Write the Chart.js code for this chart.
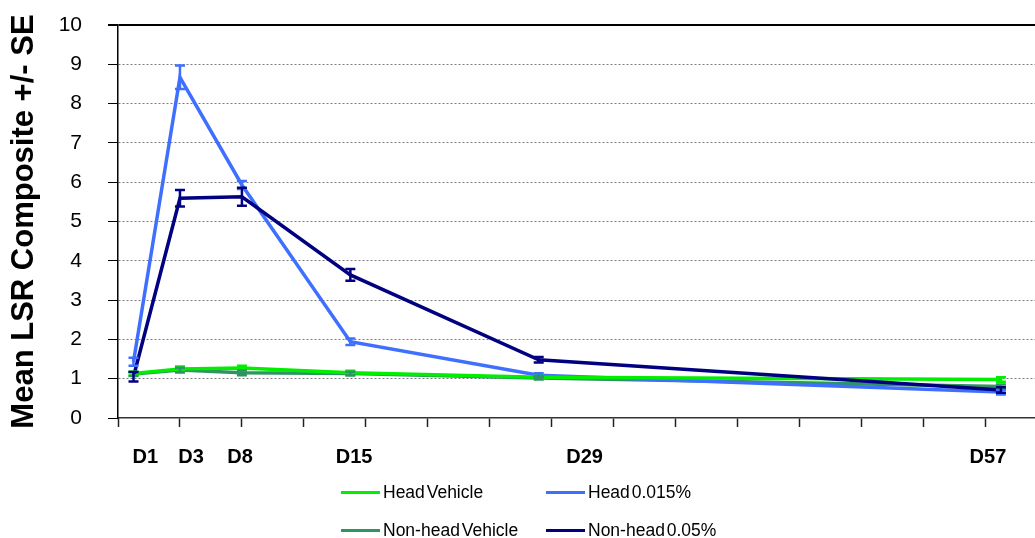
<!DOCTYPE html>
<html>
<head>
<meta charset="utf-8">
<script src="https://cdn.jsdelivr.net/npm/chart.js@4/dist/chart.umd.min.js"></script>
<style>
    body { margin: 0; background: #fff; }
    #wrap { position: relative; width: 1035px; height: 538px; }
    #legend {
        position: absolute; left: 341px; top: 473px;
        display: grid; grid-template-columns: 205px 220px; grid-auto-rows: 38px;
        font-family: "Liberation Sans", Arial, sans-serif; font-size: 17.5px; color: #000;
    }
    #legend .item { display: flex; align-items: center; white-space: nowrap; word-spacing: -3px; }
    #legend .line { display: inline-block; width: 39px; height: 3px; margin-right: 3px; }
</style>
</head>
<body>
<div id="wrap">
    <canvas id="chart" width="1035" height="538"></canvas>
    <div id="legend"></div>
</div>
<script>
// study days and where they sit on the category-like x axis (in tick units)
let dayLabels = ['D1', 'D3', 'D8', 'D15', 'D29', 'D57'];
let dayPos = [0.25, 1, 2, 3.75, 6.79, 14.25];
let labelPos = [0.44, 1.18, 1.97, 3.81, 7.53, 14.04];

// mean LSR composite per group
let headVehicle = [1.13, 1.25, 1.27, 1.15, 1.04, 0.98];
let nonheadVehicle = [1.12, 1.22, 1.15, 1.13, 1.02, 0.80];
let head015 = [1.43, 8.67, 5.93, 1.94, 1.09, 0.66];
let nonhead05 = [1.05, 5.59, 5.63, 3.64, 1.48, 0.71];

// standard errors
let headVehicleSE = [0.05, 0.06, 0.06, 0.05, 0.04, 0.06];
let nonheadVehicleSE = [0.05, 0.06, 0.06, 0.05, 0.04, 0.05];
let head015SE = [0.1, 0.3, 0.1, 0.08, 0.05, 0.06];
let nonhead05SE = [0.12, 0.21, 0.23, 0.15, 0.07, 0.07];

let yTicks = [0, 1, 2, 3, 4, 5, 6, 7, 8, 9, 10];

function points(values)
{
    return values.map((v, i) => ({ x: dayPos[i], y: v }));
}

function makeSet(label, color, values, se)
{
    return {
        label: label,
        data: points(values),
        se: se,
        borderColor: color,
        backgroundColor: color,
        borderWidth: 3.5,
        pointRadius: 0,
        tension: 0,
        xAxisID: 'x'
    };
}

let datasets = [
    makeSet('Head Vehicle', '#00ee00', headVehicle, headVehicleSE),
    makeSet('Head 0.015%', '#3f6fff', head015, head015SE),
    makeSet('Non-head Vehicle', '#2e9460', nonheadVehicle, nonheadVehicleSE),
    makeSet('Non-head 0.05%', '#000080', nonhead05, nonhead05SE)
];
datasets[3].order = -1;

// error bars drawn from the se arrays
let errorBars = {
    id: 'errorBars',
    afterDatasetsDraw(chart) {
        let ctx = chart.ctx;
        let yScale = chart.scales.y;
        chart.data.datasets.forEach((ds, di) => {
            let meta = chart.getDatasetMeta(di);
            ctx.save();
            ctx.strokeStyle = ds.borderColor;
            ctx.lineWidth = 2.5;
            meta.data.forEach((pt, i) => {
                let v = ds.data[i].y;
                let top = yScale.getPixelForValue(v + ds.se[i]);
                let bot = yScale.getPixelForValue(v - ds.se[i]);
                ctx.beginPath();
                ctx.moveTo(pt.x, top); ctx.lineTo(pt.x, bot);
                ctx.moveTo(pt.x - 5, top); ctx.lineTo(pt.x + 5, top);
                ctx.moveTo(pt.x - 5, bot); ctx.lineTo(pt.x + 5, bot);
                ctx.stroke();
            });
            ctx.restore();
        });
    }
};

let font = '"Liberation Sans", Arial, sans-serif';

let config = {
    type: 'line',
    data: { datasets: datasets },
    options: {
        responsive: false,
        animation: false,
        layout: { padding: { top: 25, right: 0, bottom: 44, left: 0 } },
        plugins: { legend: { display: false }, tooltip: { enabled: false } },
        scales: {
            x: {
                type: 'linear', position: 'bottom', min: 0, max: 14.8,
                afterBuildTicks: s => { s.ticks = s.ticks.filter(t => Number.isInteger(t.value)); },
                afterFit: s => { s.height = 9; },
                ticks: { display: false, stepSize: 1 },
                grid: { drawOnChartArea: false, tickLength: 9, color: '#222', tickWidth: 1.5 },
                border: { color: '#333', width: 1.5 }
            },
            xl: {
                type: 'linear', position: 'bottom', min: 0, max: 14.8,
                afterBuildTicks: s => { s.ticks = labelPos.map(v => ({ value: v })); },
                afterFit: s => { s.height = 67; },
                ticks: {
                    autoSkip: false, maxRotation: 0, padding: 18, color: '#000',
                    font: { family: font, size: 20, weight: 'bold' },
                    callback: (v, i) => dayLabels[i]
                },
                grid: { display: false, drawTicks: false },
                border: { display: false }
            },
            y: {
                min: 0, max: 10,
                afterBuildTicks: s => { s.ticks = yTicks.map(v => ({ value: v })); },
                afterFit: s => { s.width = 118; s.paddingTop = 0; s.paddingBottom = 0; },
                ticks: { padding: 26, color: '#000', font: { family: font, size: 21 } },
                grid: {
                    tickLength: 10, tickColor: '#000',
                    color: c => c.tick.value == 10 ? '#000' : (c.tick.value == 0 ? 'rgba(0,0,0,0)' : '#7a7a7a'),
                    lineWidth: c => c.tick.value == 10 ? 2 : 1
                },
                border: {
                    color: '#000', width: 1.5,
                    dash: c => (c.tick && c.tick.value > 0 && c.tick.value < 10) ? [2, 2] : []
                },
                title: {
                    display: true, text: 'Mean LSR Composite +/- SE', color: '#000',
                    font: { family: font, size: 31, weight: 'bold' }, padding: { top: 6, bottom: 0 }
                }
            }
        }
    },
    plugins: [errorBars]
};

let chart = new Chart(document.getElementById('chart'), config);

// legend in two columns like the original
let order = [0, 1, 2, 3];
let legend = document.getElementById('legend');
order.forEach(i => {
    let ds = datasets[i];
    let item = document.createElement('div');
    item.className = 'item';
    let line = document.createElement('span');
    line.className = 'line';
    line.style.background = ds.borderColor;
    item.appendChild(line);
    item.appendChild(document.createTextNode(ds.label));
    legend.appendChild(item);
});
</script>
</body>
</html>
